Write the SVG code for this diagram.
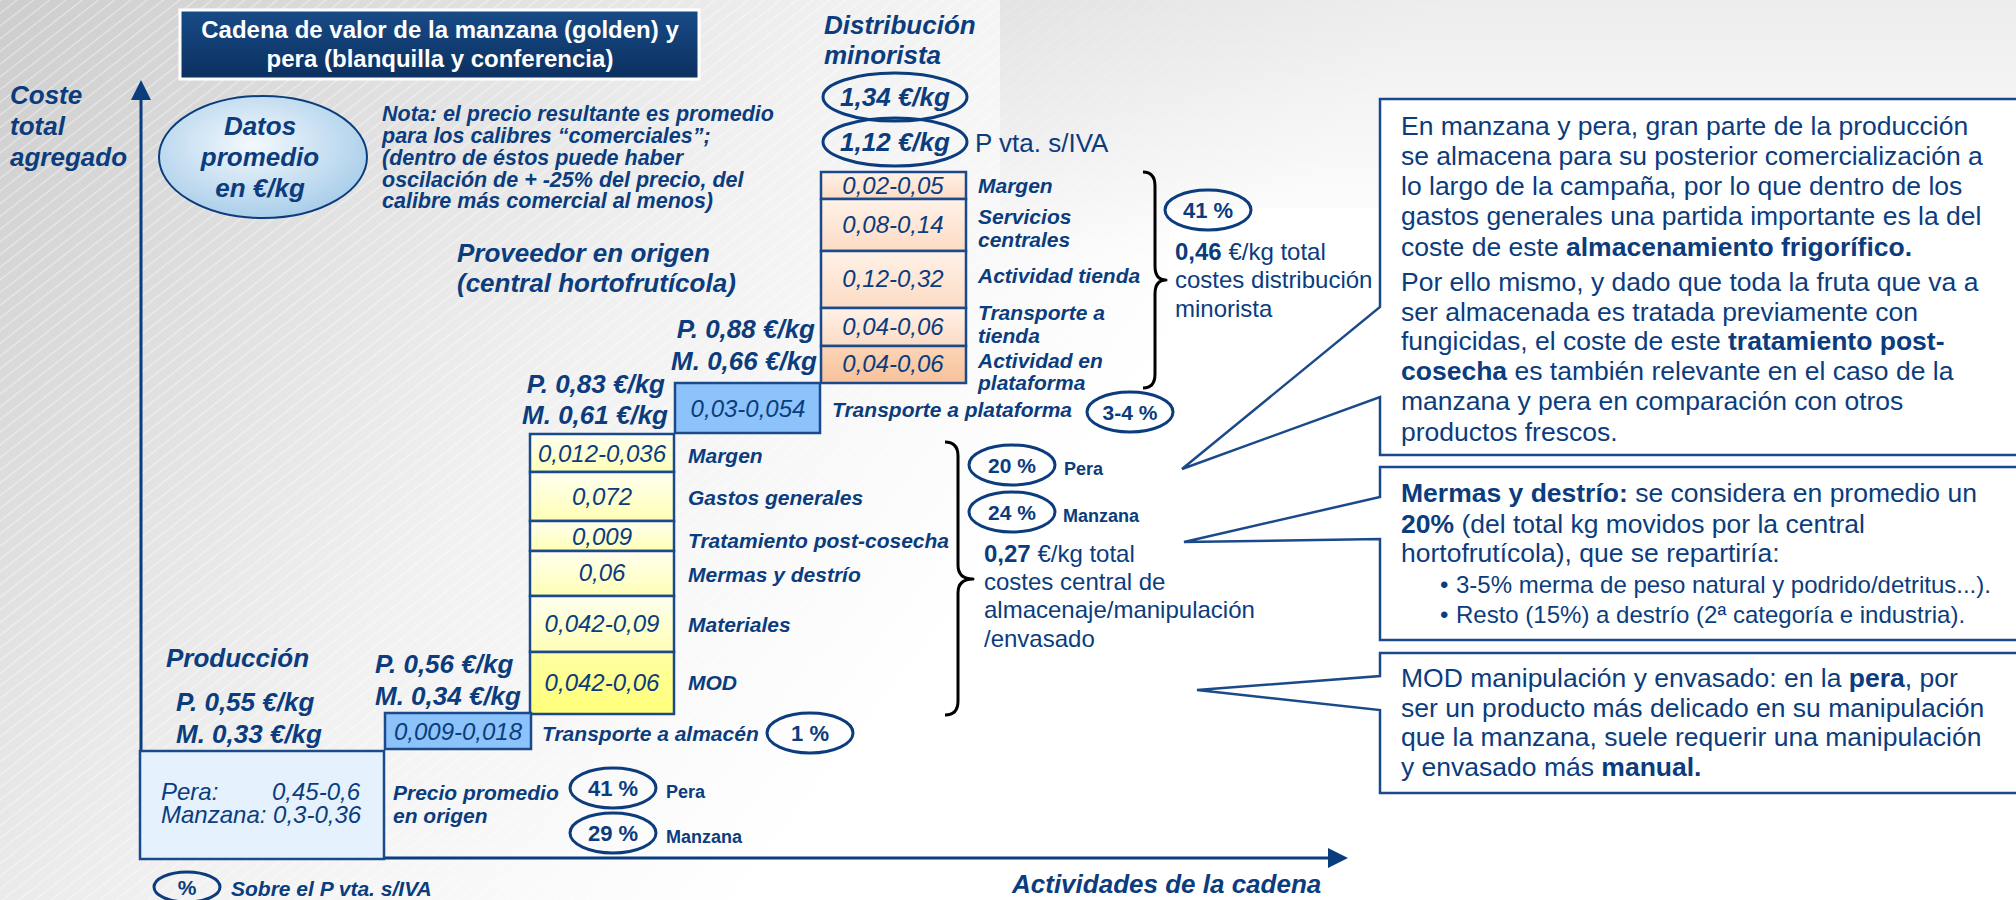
<svg xmlns="http://www.w3.org/2000/svg" width="2016" height="900" viewBox="0 0 2016 900">
<defs>
<style>
.n{fill:#0b3c7d;font-family:"Liberation Sans",Arial,Helvetica,sans-serif}
.bi{font-weight:700;font-style:italic}
.b{font-weight:700}
.i{font-style:italic}
.mid{text-anchor:middle}
.end{text-anchor:end}
.s18{font-size:18px}.s21{font-size:21px}.s22{font-size:22px}.s24{font-size:24px}.s26{font-size:26px}.s265{font-size:26.5px}
.box{stroke:#1b4a8a;stroke-width:2.5}
.pct{fill:none;stroke:#0b3c7d;stroke-width:3}
.callout{fill:#fff;stroke:#1b4a8a;stroke-width:2.5}
.brace{fill:none;stroke:#000;stroke-width:3;stroke-linejoin:round}
.axis{stroke:#0b3c7d;stroke-width:3;fill:none}
</style>
<linearGradient id="bg" x1="0" y1="0" x2="900" y2="700" gradientUnits="userSpaceOnUse"><stop offset="0" stop-color="#cdcdcd"/><stop offset="0.6" stop-color="#f1f1f1"/><stop offset="1" stop-color="#ffffff"/></linearGradient>
<linearGradient id="topfade" x1="0" y1="0" x2="0" y2="1"><stop offset="0" stop-color="#000" stop-opacity="0.07"/><stop offset="1" stop-color="#000" stop-opacity="0"/></linearGradient>
<pattern id="hatch" width="200" height="10" patternUnits="userSpaceOnUse" patternTransform="rotate(-38)"><rect width="200" height="1.2" fill="#ffffff"/></pattern>
<radialGradient id="oval" cx="0.45" cy="0.4" r="0.65"><stop offset="0" stop-color="#f3f9fe"/><stop offset="1" stop-color="#a5cbe8"/></radialGradient>
<linearGradient id="peach" x1="0" y1="0" x2="0" y2="1"><stop offset="0" stop-color="#fff2e8"/><stop offset="1" stop-color="#fcdbc4"/></linearGradient>
<linearGradient id="peach2" x1="0" y1="0" x2="0" y2="1"><stop offset="0" stop-color="#fcd5b7"/><stop offset="1" stop-color="#f7c19a"/></linearGradient>
<linearGradient id="yel" x1="0" y1="0" x2="0" y2="1"><stop offset="0" stop-color="#fffff0"/><stop offset="1" stop-color="#ffffb6"/></linearGradient>
<linearGradient id="yel2" x1="0" y1="0" x2="0" y2="1"><stop offset="0" stop-color="#ffffa4"/><stop offset="1" stop-color="#ffff78"/></linearGradient>
<linearGradient id="title" x1="0" y1="0" x2="0" y2="1"><stop offset="0" stop-color="#184b87"/><stop offset="1" stop-color="#0b305f"/></linearGradient>
<marker id="arr" viewBox="0 0 20 20" refX="10" refY="10" markerWidth="20" markerHeight="20" markerUnits="userSpaceOnUse" orient="auto"><path d="M0,0 L20,10 L0,20 Z" fill="#0b3c7d"/></marker>
</defs>

<g id="background">
<rect width="2016" height="900" fill="url(#bg)"/>
<rect width="2016" height="900" fill="url(#hatch)" opacity="0.45"/>
<rect x="1000" y="0" width="1016" height="260" fill="url(#topfade)"/>
</g>

<g id="title">
<rect x="180" y="10" width="519" height="69" fill="url(#title)" stroke="#ffffff" stroke-width="3"/>
<text x="440" y="38" class="b mid" font-family="Liberation Sans, Arial, sans-serif" font-size="24" fill="#ffffff">Cadena de valor de la manzana (golden) y</text>
<text x="440" y="67" class="b mid" font-family="Liberation Sans, Arial, sans-serif" font-size="24" fill="#ffffff">pera (blanquilla y conferencia)</text>
</g>

<g id="axes">
<line class="axis" x1="141" y1="859" x2="141" y2="90" marker-end="url(#arr)"/>
<line class="axis" x1="140" y1="858" x2="1338" y2="858" marker-end="url(#arr)"/>
<text class="n bi s26" x="10" y="104">Coste</text>
<text class="n bi s26" x="10" y="135">total</text>
<text class="n bi s26" x="10" y="166">agregado</text>
<text class="n bi s26" x="1012" y="893">Actividades de la cadena</text>
</g>

<g id="datos-promedio">
<ellipse cx="263" cy="157" rx="104" ry="61" fill="url(#oval)" stroke="#0b3c7d" stroke-width="2"/>
<text class="n bi s26 mid" x="260" y="135">Datos</text>
<text class="n bi s26 mid" x="260" y="166">promedio</text>
<text class="n bi s26 mid" x="260" y="197">en €/kg</text>
</g>

<g id="nota">
<text class="n bi" font-size="21.5" x="382" y="121">Nota: el precio resultante es promedio</text>
<text class="n bi" font-size="21.5" x="382" y="143">para los calibres “comerciales”;</text>
<text class="n bi" font-size="21.5" x="382" y="165">(dentro de éstos puede haber</text>
<text class="n bi" font-size="21.5" x="382" y="187">oscilación de + -25% del precio, del</text>
<text class="n bi" font-size="21.5" x="382" y="208">calibre más comercial al menos)</text>
</g>

<g id="distribucion-minorista">
<text class="n bi s26" x="824" y="34">Distribución</text>
<text class="n bi s26" x="824" y="64">minorista</text>
<ellipse class="pct" cx="895" cy="97" rx="72" ry="24"/>
<text class="n bi s26 mid" x="895" y="106">1,34 €/kg</text>
<ellipse class="pct" cx="895" cy="142" rx="72" ry="24"/>
<text class="n bi s26 mid" x="895" y="151">1,12 €/kg</text>
<text class="n s26" x="975" y="152">P vta. s/IVA</text>
<rect class="box" x="821" y="172" width="145" height="27" fill="url(#peach)"/>
<rect class="box" x="821" y="199" width="145" height="52" fill="url(#peach)"/>
<rect class="box" x="821" y="251" width="145" height="57" fill="url(#peach)"/>
<rect class="box" x="821" y="308" width="145" height="38" fill="url(#peach)"/>
<rect class="box" x="821" y="346" width="145" height="37" fill="url(#peach2)"/>
<text class="n i s24 mid" x="893" y="194">0,02-0,05</text>
<text class="n i s24 mid" x="893" y="233">0,08-0,14</text>
<text class="n i s24 mid" x="893" y="287">0,12-0,32</text>
<text class="n i s24 mid" x="893" y="335">0,04-0,06</text>
<text class="n i s24 mid" x="893" y="372">0,04-0,06</text>
<text class="n bi s21" x="978" y="193">Margen</text>
<text class="n bi s21" x="978" y="224">Servicios</text>
<text class="n bi s21" x="978" y="247">centrales</text>
<text class="n bi s21" x="978" y="283">Actividad tienda</text>
<text class="n bi s21" x="978" y="320">Transporte a</text>
<text class="n bi s21" x="978" y="343">tienda</text>
<text class="n bi s21" x="978" y="368">Actividad en</text>
<text class="n bi s21" x="978" y="390">plataforma</text>
</g>

<g id="total-distribucion">
<rect x="1169" y="208" width="211" height="146" fill="#ffffff"/>
<ellipse class="pct" cx="1208" cy="210" rx="43" ry="20"/>
<text class="n b s22 mid" x="1208" y="218">41 %</text>
<text class="n s24" x="1175" y="260"><tspan class="b">0,46</tspan> €/kg total</text>
<text class="n s24" x="1175" y="288">costes distribución</text>
<text class="n s24" x="1175" y="317">minorista</text>
</g>

<g id="proveedor-origen">
<text class="n bi s26" x="457" y="262">Proveedor en origen</text>
<text class="n bi s26" x="457" y="292">(central hortofrutícola)</text>
<text class="n bi s26 end" x="815" y="338">P. 0,88 €/kg</text>
<text class="n bi s26 end" x="817" y="370">M. 0,66 €/kg</text>
<text class="n bi s26 end" x="665" y="393">P. 0,83 €/kg</text>
<text class="n bi s26 end" x="668" y="424">M. 0,61 €/kg</text>
</g>

<g id="transporte-plataforma">
<rect class="box" x="675" y="383" width="145" height="50" fill="#8dc3fb"/>
<text class="n i s24 mid" x="748" y="417">0,03-0,054</text>
<text class="n bi s21" x="832" y="417">Transporte a plataforma</text>
<ellipse class="pct" cx="1130" cy="412" rx="43" ry="20"/>
<text class="n b s21 mid" x="1130" y="420">3-4 %</text>
</g>

<g id="central-hortofruticola">
<rect class="box" x="530" y="434" width="144" height="38" fill="url(#yel)"/>
<rect class="box" x="530" y="472" width="144" height="49" fill="url(#yel)"/>
<rect class="box" x="530" y="521" width="144" height="30" fill="url(#yel)"/>
<rect class="box" x="530" y="551" width="144" height="45" fill="url(#yel)"/>
<rect class="box" x="530" y="596" width="144" height="56" fill="url(#yel)"/>
<rect class="box" x="530" y="652" width="144" height="62" fill="url(#yel2)"/>
<text class="n i s24 mid" x="602" y="462">0,012-0,036</text>
<text class="n i s24 mid" x="602" y="505">0,072</text>
<text class="n i s24 mid" x="602" y="545">0,009</text>
<text class="n i s24 mid" x="602" y="581">0,06</text>
<text class="n i s24 mid" x="602" y="632">0,042-0,09</text>
<text class="n i s24 mid" x="602" y="691">0,042-0,06</text>
<text class="n bi s21" x="688" y="463">Margen</text>
<text class="n bi s21" x="688" y="505">Gastos generales</text>
<text class="n bi s21" x="688" y="548">Tratamiento post-cosecha</text>
<text class="n bi s21" x="688" y="582">Mermas y destrío</text>
<text class="n bi s21" x="688" y="632">Materiales</text>
<text class="n bi s21" x="688" y="690">MOD</text>
</g>

<g id="total-central">
<rect x="980" y="523" width="287" height="144" fill="#ffffff"/>
<ellipse class="pct" cx="1012" cy="465" rx="43" ry="20"/>
<text class="n b s21 mid" x="1012" y="473">20 %</text>
<text class="n b s18" x="1064" y="475">Pera</text>
<ellipse class="pct" cx="1012" cy="512" rx="43" ry="20"/>
<text class="n b s21 mid" x="1012" y="520">24 %</text>
<text class="n b s18" x="1063" y="522">Manzana</text>
<text class="n s24" x="984" y="562"><tspan class="b">0,27</tspan> €/kg total</text>
<text class="n s24" x="984" y="590">costes central de</text>
<text class="n s24" x="984" y="618">almacenaje/manipulación</text>
<text class="n s24" x="984" y="647">/envasado</text>
</g>

<g id="produccion">
<text class="n bi s26" x="166" y="667">Producción</text>
<text class="n bi s26" x="176" y="711">P. 0,55 €/kg</text>
<text class="n bi s26" x="176" y="743">M. 0,33 €/kg</text>
<text class="n bi s26" x="375" y="673">P. 0,56 €/kg</text>
<text class="n bi s26" x="375" y="705">M. 0,34 €/kg</text>
<rect class="box" x="385" y="713" width="146" height="36" fill="#8dc3fb"/>
<text class="n i s24 mid" x="458" y="740">0,009-0,018</text>
<text class="n bi s21" x="542" y="741">Transporte a almacén</text>
<ellipse class="pct" cx="810" cy="733" rx="43" ry="20"/>
<text class="n b s22 mid" x="810" y="741">1 %</text>
</g>

<g id="precio-origen">
<rect class="box" x="140" y="751" width="244" height="108" fill="#e5f2fd"/>
<text class="n i s24" x="161" y="800">Pera:</text>
<text class="n i s24 end" x="360" y="800">0,45-0,6</text>
<text class="n i s24" x="161" y="823">Manzana: 0,3-0,36</text>
<text class="n bi s21" x="393" y="800">Precio promedio</text>
<text class="n bi s21" x="393" y="823">en origen</text>
<ellipse class="pct" cx="613" cy="788" rx="43" ry="20"/>
<text class="n b s22 mid" x="613" y="796">41 %</text>
<text class="n b s18" x="666" y="798">Pera</text>
<ellipse class="pct" cx="613" cy="833" rx="43" ry="20"/>
<text class="n b s22 mid" x="613" y="841">29 %</text>
<text class="n b s18" x="666" y="843">Manzana</text>
</g>

<g id="legend">
<ellipse class="pct" cx="187" cy="887" rx="33" ry="15"/>
<text class="n b s21 mid" x="187" y="895">%</text>
<text class="n bi s21" x="231" y="896">Sobre el P vta. s/IVA</text>
</g>

<g id="connectors">
<path class="brace" d="M1143,172 Q1155,172 1155,186 L1155,266 Q1155,280 1166,280 Q1155,280 1155,294 L1155,374 Q1155,388 1143,388"/>
<path class="brace" d="M945,442 Q958,442 958,456 L958,565 Q958,579 973,579 Q958,579 958,593 L958,701 Q958,715 945,715"/>
</g>

<g id="callout-almacenamiento">
<path class="callout" d="M1380,99 H2022 V455 H1380 V397 L1182,469 L1380,307 Z"/>
<text class="n s265" x="1401" y="135">En manzana y pera, gran parte de la producción</text>
<text class="n s265" x="1401" y="165">se almacena para su posterior comercialización a</text>
<text class="n s265" x="1401" y="195">lo largo de la campaña, por lo que dentro de los</text>
<text class="n s265" x="1401" y="225">gastos generales una partida importante es la del</text>
<text class="n s265" x="1401" y="256">coste de este <tspan class="b">almacenamiento frigorífico.</tspan></text>
<text class="n s265" x="1401" y="291">Por ello mismo, y dado que toda la fruta que va a</text>
<text class="n s265" x="1401" y="321">ser almacenada es tratada previamente con</text>
<text class="n s265" x="1401" y="350">fungicidas, el coste de este <tspan class="b">tratamiento post-</tspan></text>
<text class="n s265" x="1401" y="380"><tspan class="b">cosecha</tspan> es también relevante en el caso de la</text>
<text class="n s265" x="1401" y="410">manzana y pera en comparación con otros</text>
<text class="n s265" x="1401" y="441">productos frescos.</text>
</g>

<g id="callout-mermas">
<path class="callout" d="M1380,467 H2022 V640 H1380 V539 L1184,542 L1380,497 Z"/>
<text class="n s265" x="1401" y="502"><tspan class="b">Mermas y destrío:</tspan> se considera en promedio un</text>
<text class="n s265" x="1401" y="533"><tspan class="b">20%</tspan> (del total kg movidos por la central</text>
<text class="n s265" x="1401" y="562">hortofrutícola), que se repartiría:</text>
<text class="n s24" x="1440" y="593">•</text>
<text class="n s24" x="1456" y="593">3-5% merma de peso natural y podrido/detritus...).</text>
<text class="n s24" x="1440" y="623">•</text>
<text class="n s24" x="1456" y="623">Resto (15%) a destrío (2ª categoría e industria).</text>
</g>

<g id="callout-mod">
<path class="callout" d="M1380,653 H2022 V793 H1380 V710 L1197,690 L1380,676 Z"/>
<text class="n s265" x="1401" y="687">MOD manipulación y envasado: en la <tspan class="b">pera</tspan>, por</text>
<text class="n s265" x="1401" y="717">ser un producto más delicado en su manipulación</text>
<text class="n s265" x="1401" y="746">que la manzana, suele requerir una manipulación</text>
<text class="n s265" x="1401" y="776">y envasado más <tspan class="b">manual.</tspan></text>
</g>
</svg>
